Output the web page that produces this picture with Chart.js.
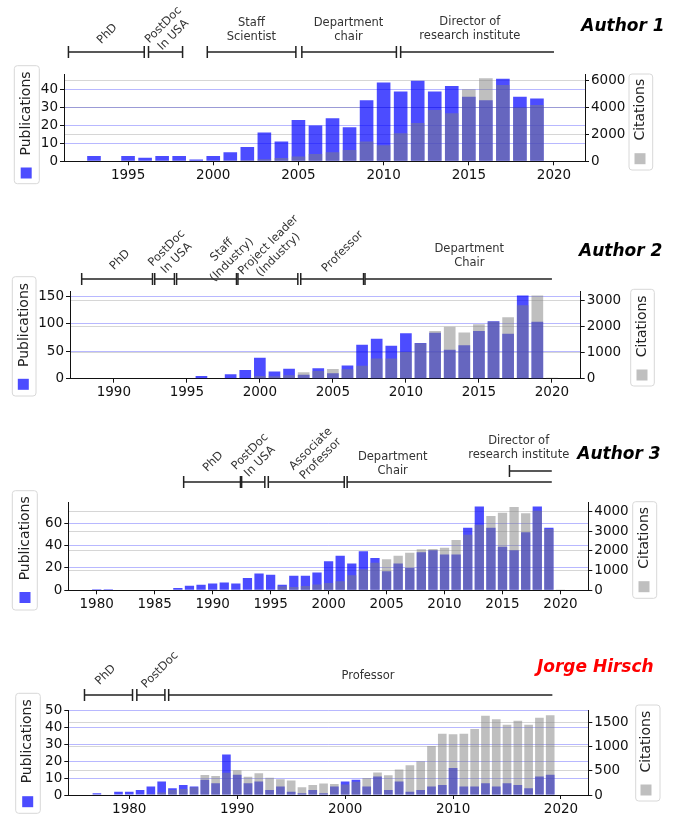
<!DOCTYPE html>
<html>
<head>
<meta charset="utf-8">
<script src="https://cdn.jsdelivr.net/npm/chart.js"></script>
<style>
  body { margin: 0; background: #fff; }
  #wrap { position: relative; width: 678px; height: 817px; }
  canvas { position: absolute; left: 0; }
</style>
</head>
<body>
<div id="wrap"></div>
<script>
// ---- Author 1 ----
const years1 = [1993,1994,1995,1996,1997,1998,1999,2000,2001,2002,2003,2004,2005,2006,2007,2008,2009,2010,2011,2012,2013,2014,2015,2016,2017,2018,2019];
const pubs1 = [3,0,3,2,3,3,1,3,5,8,16,11,23,20,24,19,34,44,39,45,39,42,36,34,46,36,35];
const cites1 = [0,0,0,0,0,0,0,0,30,80,150,250,350,550,680,850,1470,1200,2090,2860,3830,3590,5380,6200,5700,4010,4200];
const xTicks1 = [1995,2000,2005,2010,2015,2020];
const pubTicks1 = [0,10,20,30,40];
const citeTicks1 = [0,2000,4000,6000];
const roles1 = ['PhD', 'PostDoc\nIn USA', 'Staff\nScientist', 'Department\nchair', 'Director of\nresearch institute'];
const roleStart1 = [1991.5, 1996.2, 1999.65, 2005.2, 2011.0];
const roleEnd1 = [1995.95, 1998.2, 2004.85, 2010.75, 2020.0];
const roleOpen1 = [false, false, false, false, true];

// ---- Author 2 ----
const years2 = [1990,1991,1992,1993,1994,1995,1996,1997,1998,1999,2000,2001,2002,2003,2004,2005,2006,2007,2008,2009,2010,2011,2012,2013,2014,2015,2016,2017,2018,2019,2020];
const pubs2 = [1,0,0,1,1,0,5,0,8,16,38,13,18,7,19,10,24,62,73,60,83,65,84,53,61,87,105,82,152,104,1];
const cites2 = [0,0,0,0,0,0,0,0,0,0,100,90,130,245,300,370,360,500,780,780,1040,1360,1830,2000,1780,2090,2200,2360,2820,3200,40];
const xTicks2 = [1990,1995,2000,2005,2010,2015,2020];
const pubTicks2 = [0,50,100,150];
const citeTicks2 = [0,1000,2000,3000];
const roles2 = ['PhD', 'PostDoc\nIn USA', 'Staff\n(Industry)', 'Project leader\n(Industry)', 'Professor', 'Department\nChair'];
const roleStart2 = [1987.8, 1992.8, 1994.3, 1998.5, 2002.8, 2007.2];
const roleEnd2 = [1992.65, 1994.15, 1998.4, 2002.6, 2007.1, 2020.0];
const roleOpen2 = [false, false, false, false, false, true];

// ---- Author 3 ----
const years3 = [1980,1981,1982,1983,1984,1985,1986,1987,1988,1989,1990,1991,1992,1993,1994,1995,1996,1997,1998,1999,2000,2001,2002,2003,2004,2005,2006,2007,2008,2009,2010,2011,2012,2013,2014,2015,2016,2017,2018,2019,2020];
const pubs3 = [1,1,0,0,0,0,0,2,4,5,6,7,6,11,15,14,5,13,13,16,26,31,24,35,29,17,24,20,34,36,32,32,56,75,56,39,36,52,75,56,0];
const cites3 = [0,0,0,0,0,0,0,0,0,0,0,0,0,0,20,30,200,170,220,300,370,460,770,1070,1400,1580,1760,1915,2085,2100,2170,2560,2830,3340,3780,3950,4240,3915,4050,3120,20];
const xTicks3 = [1980,1985,1990,1995,2000,2005,2010,2015,2020];
const pubTicks3 = [0,20,40,60];
const citeTicks3 = [0,1000,2000,3000,4000];
const roles3 = ['PhD', 'PostDoc\nIn USA', 'Associate\nProfessor', 'Department\nChair', 'Director of\nresearch institute'];
const roleStart3 = [1987.5, 1992.5, 1994.8, 2001.6, 2015.6];
const roleEnd3 = [1992.4, 1994.5, 2001.35, 2019.25, 2019.25];
const roleOpen3 = [false, false, false, true, true];

// ---- Jorge Hirsch ----
const years4 = [1977,1978,1979,1980,1981,1982,1983,1984,1985,1986,1987,1988,1989,1990,1991,1992,1993,1994,1995,1996,1997,1998,1999,2000,2001,2002,2003,2004,2005,2006,2007,2008,2009,2010,2011,2012,2013,2014,2015,2016,2017,2018,2019];
const pubs4 = [1,0,2,2,3,5,8,4,6,5,9,7,24,12,7,8,3,5,2,1,3,1,5,8,9,5,11,3,8,2,3,5,6,16,5,5,7,5,7,6,4,11,12];
const cites4 = [0,0,0,0,0,20,50,105,125,160,415,395,460,515,380,450,360,325,300,160,205,240,230,220,275,355,465,410,530,615,700,1015,1270,1260,1270,1370,1645,1570,1460,1540,1460,1605,1655];
const xTicks4 = [1980,1990,2000,2010,2020];
const pubTicks4 = [0,10,20,30,40,50];
const citeTicks4 = [0,500,1000,1500];
const roles4 = ['PhD', 'PostDoc', 'Professor'];
const roleStart4 = [1975.85, 1980.7, 1983.65];
const roleEnd4 = [1980.3, 1983.3, 2019.2];
const roleOpen4 = [false, false, true];

const FONT = 'DejaVu Sans';
const BLUE = 'rgba(0,0,255,0.7)';
const GREY = 'rgba(128,128,128,0.5)';

// layout of each panel (page pixels)
const panels = [
  { name: 'Author 1', nameColor: '#000', nameAt: [623, 27],
    years: years1, pubs: pubs1, cites: cites1,
    xTicks: xTicks1, pubTicks: pubTicks1, citeTicks: citeTicks1,
    roles: roles1, starts: roleStart1, ends: roleEnd1, open: roleOpen1,
    lineY: [52, 52, 52, 52, 52],
    labelAt: [[1993.78, 34, true], [1997.37, 30, true], [2002.24, 30, false], [2007.94, 29.7, false], [2015.06, 29.3, false]],
    top: 0, height: 200, area: [64, 74, 585, 161.3],
    xMin: 1991.24, xMax: 2021.82, yMax: 48.7, y2Max: 6520,
    legL: [14.3, 65.7, 39.3, 183.7, 26.5, 113.5, 26.2, 173],
    legR: [629, 74, 652.7, 170, 640.5, 109.7, 640, 158.7] },
  { name: 'Author 2', nameColor: '#000', nameAt: [620.7, 251.7],
    years: years2, pubs: pubs2, cites: cites2,
    xTicks: xTicks2, pubTicks: pubTicks2, citeTicks: citeTicks2,
    roles: roles2, starts: roleStart2, ends: roleEnd2, open: roleOpen2,
    lineY: [279, 279, 279, 279, 279, 279],
    labelAt: [[1990.43, 260, true], [1993.97, 253.3, true], [1997.74, 255, true], [2000.93, 250, true], [2005.67, 251.7, true], [2014.34, 256, false]],
    top: 200, height: 205, area: [70, 291, 580.7, 378.7],
    xMin: 1987.0, xMax: 2021.97, yMax: 160, y2Max: 3372,
    legL: [12.3, 276.7, 36, 396, 24.2, 325, 23.3, 384.3],
    legR: [630.7, 289.3, 654.3, 386, 642.5, 326.3, 642, 375] },
  { name: 'Author 3', nameColor: '#000', nameAt: [619, 454.3],
    years: years3, pubs: pubs3, cites: cites3,
    xTicks: xTicks3, pubTicks: pubTicks3, citeTicks: citeTicks3,
    roles: roles3, starts: roleStart3, ends: roleEnd3, open: roleOpen3,
    lineY: [482, 482, 482, 482, 471],
    labelAt: [[1990.05, 461.7, true], [1993.65, 456.7, true], [1998.9, 454, true], [2005.53, 464.5, false], [2016.4, 448.3, false]],
    top: 405, height: 210, area: [68.3, 502.7, 588.3, 590.3],
    xMin: 1977.55, xMax: 2022.4, yMax: 78.5, y2Max: 4458,
    legL: [12.3, 490.7, 37.3, 610, 25, 538.3, 25, 597.5],
    legR: [632.7, 501.7, 656.7, 598.3, 644.2, 537.8, 644, 586.7] },
  { name: 'Jorge Hirsch', nameColor: '#ff0000', nameAt: [595.3, 667.7],
    years: years4, pubs: pubs4, cites: cites4,
    xTicks: xTicks4, pubTicks: pubTicks4, citeTicks: citeTicks4,
    roles: roles4, starts: roleStart4, ends: roleEnd4, open: roleOpen4,
    lineY: [695, 695, 695],
    labelAt: [[1977.81, 675, true], [1982.85, 670, true], [2002.12, 675.7, false]],
    top: 615, height: 202, area: [68.3, 710.7, 588.3, 795],
    xMin: 1974.35, xMax: 2022.53, yMax: 50, y2Max: 1750,
    legL: [15.7, 693.3, 40.3, 813.3, 27.5, 741.3, 27.7, 801.7],
    legR: [635.7, 705, 660, 801, 646.7, 741.7, 646, 790] }
];

const LW = 40, RW = 50, XH = 20;

function roundRect(ctx, x1, y1, x2, y2, r) {
  ctx.beginPath();
  ctx.moveTo(x1 + r, y1);
  ctx.lineTo(x2 - r, y1); ctx.quadraticCurveTo(x2, y1, x2, y1 + r);
  ctx.lineTo(x2, y2 - r); ctx.quadraticCurveTo(x2, y2, x2 - r, y2);
  ctx.lineTo(x1 + r, y2); ctx.quadraticCurveTo(x1, y2, x1, y2 - r);
  ctx.lineTo(x1, y1 + r); ctx.quadraticCurveTo(x1, y1, x1 + r, y1);
  ctx.closePath();
}

function drawLegend(ctx, b, T, text, color) {
  roundRect(ctx, b[0], b[1] - T, b[2], b[3] - T, 3);
  ctx.fillStyle = 'rgba(255,255,255,0.8)';
  ctx.fill();
  ctx.strokeStyle = '#d8d8d8';
  ctx.lineWidth = 1;
  ctx.stroke();
  ctx.save();
  ctx.translate(b[4], b[5] - T);
  ctx.rotate(-Math.PI / 2);
  ctx.fillStyle = '#222';
  ctx.font = '14px "' + FONT + '"';
  ctx.textAlign = 'center';
  ctx.textBaseline = 'middle';
  ctx.fillText(text, 0, 0);
  ctx.restore();
  ctx.fillStyle = color;
  ctx.fillRect(b[6] - 5.5, b[7] - T - 5.5, 11, 11);
}

function decor(p) {
  return {
    id: 'decor',
    afterDraw(chart) {
      const ctx = chart.ctx;
      const xs = chart.scales.x;
      const T = p.top;
      ctx.save();
      // career timeline
      ctx.strokeStyle = '#222';
      ctx.lineWidth = 1.5;
      p.roles.forEach((role, i) => {
        const x1 = xs.getPixelForValue(p.starts[i]);
        const x2 = xs.getPixelForValue(p.ends[i]);
        const y = p.lineY[i] - T;
        ctx.beginPath();
        ctx.moveTo(x1, y); ctx.lineTo(x2, y);
        ctx.moveTo(x1, y - 6); ctx.lineTo(x1, y + 6);
        if (!p.open[i]) { ctx.moveTo(x2, y - 6); ctx.lineTo(x2, y + 6); }
        ctx.stroke();
        const lab = p.labelAt[i];
        const lines = role.split('\n');
        ctx.save();
        ctx.translate(xs.getPixelForValue(lab[0]), lab[1] - T);
        if (lab[2]) ctx.rotate(-Math.PI / 4);
        ctx.fillStyle = '#333';
        ctx.font = '11.5px "' + FONT + '"';
        ctx.textAlign = 'center';
        ctx.textBaseline = 'middle';
        lines.forEach((ln, k) => ctx.fillText(ln, 0, (k - (lines.length - 1) / 2) * 14));
        ctx.restore();
      });
      // author name
      ctx.fillStyle = p.nameColor;
      ctx.font = 'italic bold 17px "' + FONT + '"';
      ctx.textAlign = 'center';
      ctx.textBaseline = 'middle';
      ctx.fillText(p.name, p.nameAt[0], p.nameAt[1] - T);
      // legends
      drawLegend(ctx, p.legL, T, 'Publications', BLUE);
      drawLegend(ctx, p.legR, T, 'Citations', GREY);
      ctx.restore();
    }
  };
}

const wrap = document.getElementById('wrap');
panels.forEach(p => {
  const cv = document.createElement('canvas');
  cv.width = 678; cv.height = p.height;
  cv.style.top = p.top + 'px';
  cv.style.width = '678px'; cv.style.height = p.height + 'px';
  wrap.appendChild(cv);
  const a = p.area;
  const tickFont = { family: FONT, size: 13.5 };
  const fixTicks = list => s => { s.ticks = list.map(v => ({ value: v })); };
  new Chart(cv, {
    type: 'bar',
    data: {
      datasets: [
        { label: 'Citations', yAxisID: 'y2', order: 1, grouped: false,
          data: p.years.map((yr, i) => ({ x: yr, y: p.cites[i] })),
          backgroundColor: GREY, barPercentage: 0.8, categoryPercentage: 1 },
        { label: 'Publications', yAxisID: 'y', order: 2, grouped: false,
          data: p.years.map((yr, i) => ({ x: yr, y: p.pubs[i] })),
          backgroundColor: BLUE, barPercentage: 0.8, categoryPercentage: 1 }
      ]
    },
    options: {
      responsive: false,
      animation: false,
      layout: { padding: { left: a[0] - LW, right: 678 - a[2] - RW, top: a[1] - p.top, bottom: p.top + p.height - a[3] - XH } },
      plugins: { legend: { display: false }, tooltip: { enabled: false } },
      scales: {
        x: { type: 'linear', min: p.xMin, max: p.xMax, offset: false,
             afterBuildTicks: fixTicks(p.xTicks),
             ticks: { callback: v => String(v), font: tickFont, color: '#111', padding: 2, maxRotation: 0, autoSkip: false },
             grid: { drawOnChartArea: false, offset: false, tickLength: 4, tickColor: '#111' },
             border: { color: '#111' },
             afterFit: s => { s.height = XH; } },
        y: { position: 'left', min: 0, max: p.yMax,
             afterBuildTicks: fixTicks(p.pubTicks),
             ticks: { font: tickFont, color: '#111', padding: 2, autoSkip: false },
             grid: { color: 'rgba(0,0,255,0.28)', tickColor: '#111', tickLength: 4 },
             border: { color: '#111' },
             afterFit: s => { s.width = LW; } },
        y2: { position: 'right', min: 0, max: p.y2Max,
              afterBuildTicks: fixTicks(p.citeTicks),
              ticks: { callback: v => String(v), font: tickFont, color: '#111', padding: 2, autoSkip: false },
              grid: { color: 'rgba(0,0,0,0.16)', tickColor: '#111', tickLength: 4 },
              border: { color: '#111' },
              afterFit: s => { s.width = RW; } }
      }
    },
    plugins: [decor(p)]
  });
});
</script>
</body>
</html>
